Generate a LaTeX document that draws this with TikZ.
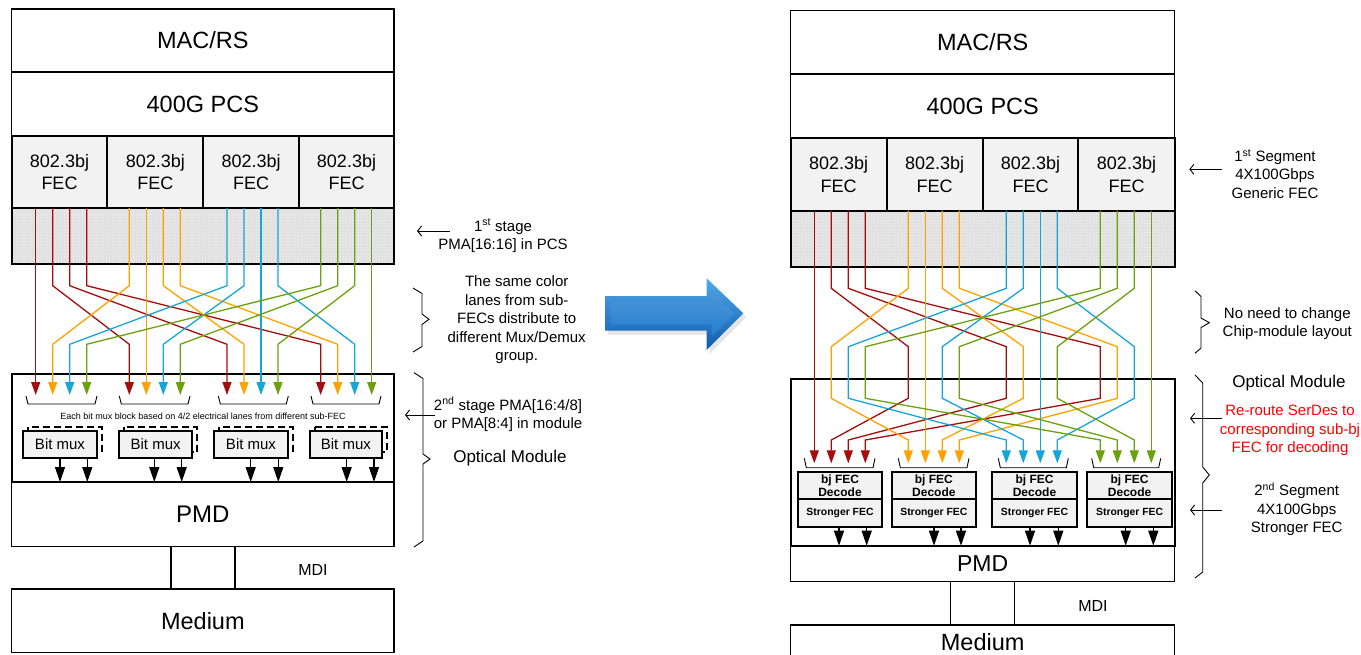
\documentclass[tikz,border=0pt]{standalone}
\usepackage{fontspec}
\setmainfont{Liberation Sans}
\usetikzlibrary{arrows.meta,patterns}

\definecolor{laneA}{RGB}{165,12,12}
\definecolor{laneB}{RGB}{255,162,0}
\definecolor{laneC}{RGB}{22,165,215}
\definecolor{laneD}{RGB}{108,160,12}
\definecolor{boxfill}{RGB}{242,242,242}
\definecolor{meshfill}{RGB}{224,224,224}
\definecolor{alert}{RGB}{255,0,0}
\definecolor{bigdark}{RGB}{16,92,170}
\definecolor{biglight}{RGB}{80,168,235}
\definecolor{bigmid}{RGB}{34,126,206}

\newcommand\setfs[2]{\fontsize{#1}{#2}\selectfont}

\begin{document}
\begin{tikzpicture}[x=1pt,y=-1pt,
  layer/.style={draw=black,line width=1.3pt,inner sep=0pt,outer sep=0pt},
  fecbox/.style={layer,fill=boxfill,line width=1.8pt},
  frame/.style={layer,line width=1.8pt},
  lane/.style={line width=1.3pt,-{Triangle[width=9pt,length=13pt]}},
  outarrow/.style={line width=1.2pt,-{Triangle[width=10pt,length=15pt]}},
  brk/.style={line width=0.9pt},
  pointer/.style={line width=0.9pt,-{Straight Barb[length=4pt,width=10pt]}},
  note/.style={align=center,inner sep=0pt,font=\setfs{15}{18.5}},
  shadowbox/.style={line width=2pt,dash pattern=on 7pt off 4pt}
]
\path[use as bounding box] (0,0) rectangle (1361,654);
\clip (0,0) rectangle (1361,654);

% ================= left protocol stack =================
\node[layer,minimum width=382.3pt,minimum height=63pt,font=\setfs{23.5}{28}] (lmac) at (202.85,40.5) {MAC/RS};
\node[layer,minimum width=382.3pt,minimum height=64pt,font=\setfs{23.5}{28}] (lpcs) at (202.85,104) {400G PCS};
\foreach \i/\cx/\w in {1/59.5/95.6,2/155.3/96,3/251.15/95.7,4/346.5/95}{
  \node[fecbox,minimum width=\w pt,minimum height=72pt,align=center,font=\setfs{18}{22.7}]
    (lfec\i) at (\cx,172) {802.3bj\\FEC};
}
% PMA mesh band
\fill[meshfill] (11.7,208) rectangle (394,264);
\fill[pattern=crosshatch dots,pattern color=white!92!gray] (11.7,208) rectangle (394,264);
\node[frame,minimum width=382.3pt,minimum height=56pt] (lmesh) at (202.85,236) {};
\node[frame,minimum width=382.3pt,minimum height=108pt] (lom) at (202.85,428) {};
\node[layer,minimum width=382.3pt,minimum height=64.7pt,font=\setfs{24}{28}] (lpmd) at (202.85,514.35) {PMD};
\node[layer,minimum width=382.3pt,minimum height=63.7pt,font=\setfs{23.5}{28}] (lmed) at (202.85,620.85) {Medium};
\coordinate (lmdiA) at (171,0);
\coordinate (lmdiB) at (235,0);
\draw[line width=1.3pt] (lmdiA |- lpmd.south) -- (lmdiA |- lmed.north);
\draw[line width=1.3pt] (lmdiB |- lpmd.south) -- (lmdiB |- lmed.north);
\node[font=\setfs{16}{19}] (lmdi) at (313,570) {MDI};

% first stage lane routing: lane j of sub-FEC c goes to slot c of group j
\coordinate (lbendA) at (0,285.7);
\coordinate (lbendB) at (0,344.3);
\foreach \c/\col in {0/laneA,1/laneB,2/laneC,3/laneD}{
  \foreach \j in {0,1,2,3}{
    \pgfmathsetmacro\xs{{35.7,129.3,227,320.7}[\c]+17*\j}
    \pgfmathsetmacro\xe{{35.7,129.3,227,320.7}[\j]+17*\c}
    \coordinate (lsrc\c\j) at (\xs,208);
    \coordinate (ldst\c\j) at (\xe,395);
    \ifnum\c=\j
      \draw[lane,\col] (lsrc\c\j) -- (ldst\c\j);
    \else
      \draw[lane,\col] (lsrc\c\j) -- (lsrc\c\j |- lbendA) -- (ldst\c\j |- lbendB) -- (ldst\c\j);
    \fi
  }
}
% group brackets under the lanes
\foreach \a/\b in {26/97,119.3/190,218.3/288.3,311/381}{
  \draw[brk] (\a,396) -- (\a+2,404) -- (\b-2,404) -- (\b,396);
}
\node[font=\setfs{9}{11}] (lmuxnote) at (203,416.7) {Each bit mux block based on 4/2 electrical lanes from different sub-FEC};

% bit mux blocks
\foreach \i/\xl/\xr in {1/23.3/96.7,2/119/192.3,3/214.3/287.7,4/310/381.7}{
  \draw[shadowbox] (\xl+5,426.7) rectangle (\xr+5,452);
  \pgfmathsetmacro\cx{(\xl+\xr)/2}
  \pgfmathsetmacro\w{\xr-\xl}
  \node[fecbox,minimum width=\w pt,minimum height=26.7pt,font=\setfs{15}{18}] (lbm\i) at (\cx,444.35) {Bit mux};
}
\foreach \i/\xa/\xb in {1/60/87.3,2/154.3/181.7,3/250.7/278.3,4/346.7/374}{
  \coordinate (lout\i a) at (\xa,0);
  \coordinate (lout\i b) at (\xb,0);
  \draw[outarrow] (lout\i a |- lbm\i.south) -- (lout\i a |- lpmd.north);
  \draw[outarrow] (lout\i b |- lbm\i.south) -- (lout\i b |- lpmd.north);
}

% left annotations
\coordinate (lpA) at (450,231);  \coordinate (lpAe) at (417,231);
\draw[pointer] (lpA) -- (lpAe);
\node[note] (lstage1) at (503,236) {1\textsuperscript{st} stage\\PMA[16:16] in PCS};
\draw[brk] (413,288) -- (422,293.5) -- (422,314) -- (429,319.3) -- (422,324.5) -- (422,346.5) -- (413,352);
\node[note] (lsame) at (516.7,320) {The same color\\lanes from sub-\\FECs distribute to\\different Mux/Demux\\group.};
\draw[brk] (414,372.7) -- (423,378.5) -- (423,454) -- (430,459) -- (423,464) -- (423,541) -- (414,547);
\coordinate (lpB) at (435,415);  \coordinate (lpBe) at (405,415);
\draw[pointer] (lpB) -- (lpBe);
\node[note] (lstage2) at (508,414.5) {2\textsuperscript{nd} stage PMA[16:4/8]\\or PMA[8:4] in module};
\node[font=\setfs{17}{20}] (lomlabel) at (510,458) {Optical Module};

% ================= transition arrow =================
\fill[gray!40,opacity=0.5] (608,300) -- (709.7,300) -- (709.7,282.3) -- (746.3,317.3) -- (709.7,354) -- (709.7,334.7) -- (608,334.7) -- cycle;
\shade[top color=biglight,bottom color=bigdark] (605,296) -- (706.7,296) -- (706.7,278.3) -- (743.3,313.3) -- (706.7,350) -- (706.7,330.7) -- (605,330.7) -- cycle;
\shade[top color=bigmid!80!white,bottom color=bigmid] (611,302) -- (711.5,302) -- (711.5,290.5) -- (734.5,313.3) -- (711.5,337) -- (711.5,324.7) -- (611,324.7) -- cycle;

% ================= right protocol stack =================
\node[layer,minimum width=384pt,minimum height=63.3pt,font=\setfs{23.5}{28}] (rmac) at (982.7,42.35) {MAC/RS};
\node[layer,minimum width=384pt,minimum height=64pt,font=\setfs{23.5}{28}] (rpcs) at (982.7,106) {400G PCS};
\foreach \i/\cx/\w in {1/838.7/96,2/934.7/96,3/1030.5/95.6,4/1126.5/96.4}{
  \node[fecbox,minimum width=\w pt,minimum height=72.7pt,align=center,font=\setfs{18}{22.7}]
    (rfec\i) at (\cx,174.35) {802.3bj\\FEC};
}
\fill[meshfill] (790.7,210.7) rectangle (1174.7,266.7);
\fill[pattern=crosshatch dots,pattern color=white!92!gray] (790.7,210.7) rectangle (1174.7,266.7);
\node[frame,minimum width=384pt,minimum height=56pt] (rmesh) at (982.7,238.7) {};
\node[frame,minimum width=384pt,minimum height=166.7pt] (rom) at (982.7,462.35) {};
\node[layer,minimum width=384pt,minimum height=36pt,font=\setfs{23}{28}] (rpmd) at (982.7,563.7) {PMD};
\node[layer,minimum width=384pt,minimum height=35pt,font=\setfs{23.5}{28}] (rmed) at (982.7,642.5) {Medium};
\coordinate (rmdiA) at (950.7,0);
\coordinate (rmdiB) at (1014.3,0);
\draw[line width=1.3pt] (rmdiA |- rpmd.south) -- (rmdiA |- rmed.north);
\draw[line width=1.3pt] (rmdiB |- rpmd.south) -- (rmdiB |- rmed.north);
\node[font=\setfs{16}{19}] (rmdi) at (1093,605.7) {MDI};

% lanes spread out in the PCS and gathered back per sub-FEC in the module
\coordinate (rbendA) at (0,288.3);
\coordinate (rbendB) at (0,346.7);
\coordinate (rbendC) at (0,398.3);
\coordinate (rbendD) at (0,440);
\foreach \c/\col in {0/laneA,1/laneB,2/laneC,3/laneD}{
  \foreach \j in {0,1,2,3}{
    \pgfmathsetmacro\xs{{814.3,908.3,1006.3,1100.3}[\c]+17*\j}
    \pgfmathsetmacro\xm{{814.3,908.3,1006.3,1100.3}[\j]+17*\c}
    \coordinate (rsrc\c\j) at (\xs,210.7);
    \coordinate (rmid\c\j) at (\xm,372);
    \coordinate (rdst\c\j) at (\xs,463.3);
    \ifnum\c=\j
      \draw[lane,\col] (rsrc\c\j) -- (rdst\c\j);
    \else
      \draw[lane,\col] (rsrc\c\j) -- (rsrc\c\j |- rbendA) -- (rmid\c\j |- rbendB)
        -- (rmid\c\j |- rbendC) -- (rdst\c\j |- rbendD) -- (rdst\c\j);
    \fi
  }
}
\foreach \a/\b in {804.3/875,898.3/969,998.3/1068.3,1091.7/1160.7}{
  \draw[brk] (\a,458.3) -- (\a+2,467.7) -- (\b-2,467.7) -- (\b,458.3);
}

% decode / stronger FEC blocks
\foreach \i/\xl/\xr in {1/797.7/882.3,2/891.7/976,3/992.3/1076.7,4/1087.3/1172}{
  \pgfmathsetmacro\cx{(\xl+\xr)/2}
  \pgfmathsetmacro\w{\xr-\xl}
  \node[fecbox,minimum width=\w pt,minimum height=27.6pt,align=center,font=\bfseries\setfs{12}{13.4}]
    (rdec\i) at (\cx,485.5) {bj FEC\\Decode};
  \node[fecbox,minimum width=\w pt,minimum height=27.4pt,font=\bfseries\setfs{10.4}{12}]
    (rstr\i) at (\cx,513) {Stronger FEC};
}
\foreach \i/\xa/\xb in {1/839/866.7,2/934/961,3/1030/1058.3,4/1125.7/1153.3}{
  \coordinate (rout\i a) at (\xa,0);
  \coordinate (rout\i b) at (\xb,0);
  \draw[outarrow] (rout\i a |- rstr\i.south) -- (rout\i a |- rpmd.north);
  \draw[outarrow] (rout\i b |- rstr\i.south) -- (rout\i b |- rpmd.north);
}

% right annotations
\coordinate (rpA) at (1221.7,169.3);  \coordinate (rpAe) at (1189.3,169.3);
\draw[pointer] (rpA) -- (rpAe);
\node[note] (rseg1) at (1275,174) {1\textsuperscript{st} Segment\\4X100Gbps\\Generic FEC};
\draw[brk] (1195,290.7) -- (1201,296.5) -- (1201,318) -- (1209.3,322.7) -- (1201,327.5) -- (1201,348) -- (1195,353.3);
\node[note] (rnoneed) at (1287.3,323.5) {No need to change\\Chip-module layout};
\draw[brk] (1195,375) -- (1202.7,383) -- (1202.7,467) -- (1209.3,475) -- (1202.7,483) -- (1202.7,572) -- (1195,578);
\node[font=\setfs{17}{20}] (romlabel) at (1289,382.7) {Optical Module};
\coordinate (rpB) at (1221.7,418.3);  \coordinate (rpBe) at (1190,418.3);
\draw[pointer] (rpB) -- (rpBe);
\node[note,text=alert] (rreroute) at (1290,430.5) {Re-route SerDes to\\corresponding sub-bj\\FEC for decoding};
\coordinate (rpC) at (1221.7,510);  \coordinate (rpCe) at (1190,510);
\draw[pointer] (rpC) -- (rpCe);
\node[note] (rseg2) at (1296.7,509.5) {2\textsuperscript{nd} Segment\\4X100Gbps\\Stronger FEC};
\end{tikzpicture}
\end{document}
